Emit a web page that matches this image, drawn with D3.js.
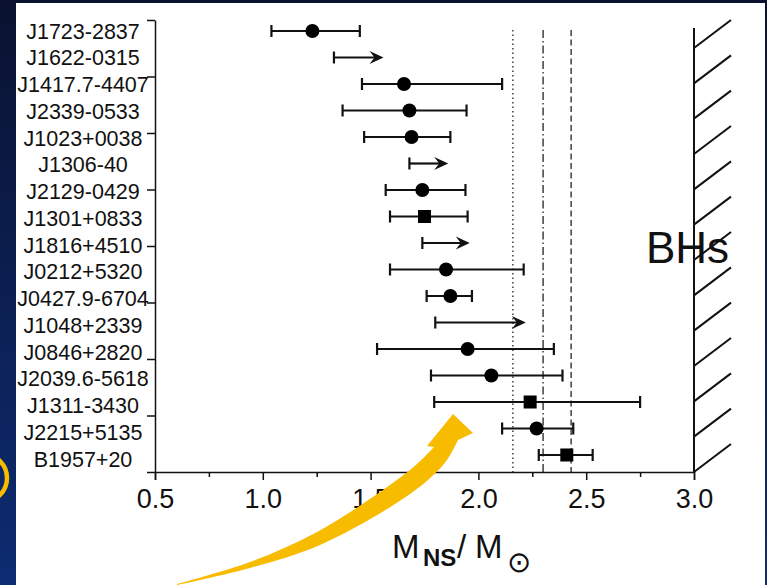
<!DOCTYPE html>
<html>
<head>
<meta charset="utf-8">
<script src="https://cdn.jsdelivr.net/npm/d3@7"></script>
<style>
  html, body { margin: 0; padding: 0; background: #0b1a4a; }
  svg { display: block; }
  text { font-family: "Liberation Sans", Arial, sans-serif; fill: #111; }
</style>
</head>
<body>
<svg id="chart" width="767" height="585"></svg>
<script>
// ---- data ----
const names = ["J1723-2837","J1622-0315","J1417.7-4407","J2339-0533","J1023+0038","J1306-40",
  "J2129-0429","J1301+0833","J1816+4510","J0212+5320","J0427.9-6704","J1048+2339",
  "J0846+2820","J2039.6-5618","J1311-3430","J2215+5135","B1957+20"];
const masses = [1.23, null, 1.655, 1.68, 1.69, null, 1.74, 1.75, null, 1.85, 1.87, null, 1.95, 2.06, 2.24, 2.27, 2.41];
const lows   = [1.04, 1.33, 1.46, 1.37, 1.47, 1.68, 1.57, 1.59, 1.74, 1.59, 1.76, 1.80, 1.53, 1.78, 1.795, 2.11, 2.28];
const highs  = [1.45, 1.56, 2.11, 1.945, 1.87, 1.86, 1.94, 1.95, 1.96, 2.21, 1.97, 2.22, 2.35, 2.39, 2.75, 2.44, 2.53];
const markers = ["circle","arrow","circle","circle","circle","arrow","circle","square","arrow","circle",
  "circle","arrow","circle","circle","square","circle","square"];
const xTicks = [0.5, 1.0, 1.5, 2.0, 2.5, 3.0];
const xMinorTicks = [0.75, 1.25, 1.75, 2.25, 2.75];
const refLines = [2.16, 2.30, 2.43];
const refDash = ["1.5,3", "8,3,1.5,3", "6,3.5"];
const bhLimit = 3.0;

const rows = names.map((n, i) => ({name: n, m: masses[i], lo: lows[i], hi: highs[i], mk: markers[i]}));

const svg = d3.select("#chart");

// background
const defs = svg.append("defs");
const grad = defs.append("linearGradient").attr("id", "bg").attr("x1", 0).attr("y1", 0).attr("x2", 0).attr("y2", 1);
grad.append("stop").attr("offset", "0%").attr("stop-color", "#0a1230");
grad.append("stop").attr("offset", "100%").attr("stop-color", "#0d2c72");
svg.append("rect").attr("width", 767).attr("height", 585).attr("fill", "url(#bg)");

// yellow ring at left edge
svg.append("circle").attr("cx", -17).attr("cy", 478).attr("r", 24)
  .attr("fill", "none").attr("stroke", "#f7bd00").attr("stroke-width", 4.5);

// white panel
svg.append("rect").attr("x", 16).attr("y", 3).attr("width", 749).attr("height", 585).attr("fill", "#fff");

// scales
const x = d3.scaleLinear().domain([0.5, 3.0]).range([155, 694]);
const y = d3.scalePoint().domain(names).range([31, 455]);
const yLab = d3.scalePoint().domain(names).range([31, 459]);
const yAxisScale = d3.scaleLinear().domain([0, 8]).range([472, 20]);

// x axis
const gx = svg.append("g").attr("transform", "translate(0,472)");
gx.call(d3.axisBottom(x).tickValues(xTicks).tickFormat(d3.format(".1f")).tickSize(8).tickPadding(9));
gx.select(".domain").attr("stroke", "#111").attr("stroke-width", 1.5);
gx.selectAll(".tick line").attr("stroke", "#111").attr("stroke-width", 1.5);
gx.selectAll(".tick text").attr("font-size", 27).attr("font-family", "Liberation Sans, Arial, sans-serif").attr("fill", "#111");
const gxm = svg.append("g").attr("transform", "translate(0,472)");
gxm.call(d3.axisBottom(x).tickValues(xMinorTicks).tickFormat("").tickSize(5));
gxm.select(".domain").remove();
gxm.selectAll(".tick line").attr("stroke", "#111").attr("stroke-width", 1.5);

// y axis
const gy = svg.append("g").attr("transform", "translate(155,0)");
gy.call(d3.axisLeft(yAxisScale).tickValues(d3.range(0, 9)).tickFormat("").tickSize(8).tickSizeOuter(0));
gy.select(".domain").attr("stroke", "#111").attr("stroke-width", 1.5);
gy.selectAll(".tick line").attr("stroke", "#111").attr("stroke-width", 1.5);

// category labels
svg.append("g").selectAll("text").data(rows).join("text")
  .attr("x", 83).attr("y", d => yLab(d.name)).attr("dy", "0.36em")
  .attr("text-anchor", "middle").attr("font-size", 21.5)
  .text(d => d.name);

// reference lines
svg.append("g").selectAll("line").data(refLines).join("line")
  .attr("x1", d => x(d)).attr("x2", d => x(d))
  .attr("y1", 30).attr("y2", 472)
  .attr("stroke", "#222").attr("stroke-width", 1.3)
  .attr("stroke-dasharray", (d, i) => refDash[i]);

// BH limit line with hatching
svg.append("line").attr("x1", x(bhLimit)).attr("x2", x(bhLimit)).attr("y1", 28).attr("y2", 472)
  .attr("stroke", "#111").attr("stroke-width", 2);
const hatchY = d3.scaleLinear().domain([0, 12]).range([48, 472]);
svg.append("g").selectAll("line").data(d3.range(0, 13)).join("line")
  .attr("x1", x(bhLimit)).attr("y1", d => hatchY(d))
  .attr("x2", x(bhLimit) + 37).attr("y2", d => hatchY(d) - 28)
  .attr("stroke", "#111").attr("stroke-width", 2);
svg.append("text").attr("x", 646).attr("y", 263).attr("font-size", 44).text("BHs");

// error bars / limits
const g = svg.append("g");
const capH = 6;
rows.forEach(d => {
  const yy = y(d.name);
  const x0 = x(d.lo), x1 = x(d.hi);
  const isArrow = d.mk === "arrow";
  g.append("line").attr("x1", x0).attr("x2", isArrow ? x1 - 8 : x1).attr("y1", yy).attr("y2", yy)
    .attr("stroke", "#111").attr("stroke-width", 2.2);
  g.append("line").attr("x1", x0).attr("x2", x0).attr("y1", yy - capH).attr("y2", yy + capH)
    .attr("stroke", "#111").attr("stroke-width", 2.2);
  if (isArrow) {
    g.append("path")
      .attr("d", `M${x1},${yy} L${x1 - 14},${yy - 6.5} L${x1 - 9},${yy} L${x1 - 14},${yy + 6.5} Z`)
      .attr("fill", "#111");
  } else {
    g.append("line").attr("x1", x1).attr("x2", x1).attr("y1", yy - capH).attr("y2", yy + capH)
      .attr("stroke", "#111").attr("stroke-width", 2.2);
    if (d.mk === "circle") {
      g.append("circle").attr("cx", x(d.m)).attr("cy", yy).attr("r", 7).attr("fill", "#000");
    } else {
      g.append("rect").attr("x", x(d.m) - 6.5).attr("y", yy - 6.5).attr("width", 13).attr("height", 13).attr("fill", "#000");
    }
  }
});

// x-axis title
const title = svg.append("g");
title.append("text").attr("x", 392).attr("y", 558).attr("font-size", 33).text("M");
title.append("text").attr("x", 423).attr("y", 566).attr("font-size", 24).attr("font-weight", "bold").text("NS");
title.append("text").attr("x", 457).attr("y", 558).attr("font-size", 33).text("/");
title.append("text").attr("x", 475).attr("y", 558).attr("font-size", 33).text("M");
title.append("text").attr("x", 507).attr("y", 572).attr("font-family", "DejaVu Sans").attr("font-size", 29).text("⊙");

// yellow curved arrow (decoration)
const upper = [[177,584],[250,562],[317,532],[383,490],[417,464],[434,447]];
const lower = [[458,440],[447,460],[428,480],[395,504],[320,545],[250,568],[177,585]];
const lineGen = d3.line().curve(d3.curveCatmullRom);
const up = lineGen(upper);
const lo = lineGen(lower);
const pathD = up + ` L427,446 L453,414 L473,433 L458,440 ` + lo.replace(/^M/, "L") + " Z";
svg.append("path").attr("d", pathD).attr("fill", "#f7bb00");
</script>
</body>
</html>
